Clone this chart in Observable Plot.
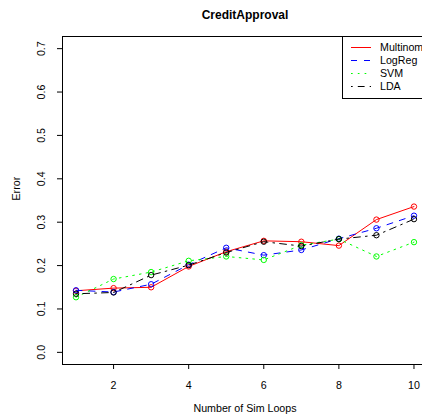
<!DOCTYPE html>
<html>
<head>
<meta charset="utf-8">
<script src="https://cdn.jsdelivr.net/npm/d3@7"></script>
<script src="https://cdn.jsdelivr.net/npm/@observablehq/plot@0.6"></script>
<style>
  body { margin: 0; background: #fff; font-family: "Liberation Sans", Arial, sans-serif; }
  #wrap { position: relative; width: 422px; height: 420px; overflow: hidden; }
  #chart svg { max-width: none !important; display: block; }
  #legend { position: absolute; left: 342px; top: 36px; }
</style>
</head>
<body>
<div id="wrap"><div id="chart"></div><div id="legend"></div></div>
<script>
const titleText = "CreditApproval";
const xLabel = "Number of Sim Loops";
const yLabel = "Error";
const loops = [1, 2, 3, 4, 5, 6, 7, 8, 9, 10];
const seriesNames = ["Multinom", "LogReg", "SVM", "LDA"];
const seriesColors = ["#FF0000", "#0000FF", "#00FF00", "#000000"];
const seriesDash = ["none", "6,7", "1.7,5.1", "1.7,5.1,6.8,5.1"];
const multinom = [0.142, 0.148, 0.150, 0.198, 0.232, 0.257, 0.255, 0.246, 0.306, 0.336];
const logreg   = [0.143, 0.139, 0.157, 0.202, 0.241, 0.224, 0.236, 0.262, 0.286, 0.315];
const svm      = [0.127, 0.169, 0.185, 0.211, 0.221, 0.213, 0.247, 0.261, 0.221, 0.254];
const lda      = [0.135, 0.138, 0.178, 0.201, 0.230, 0.255, 0.245, 0.261, 0.270, 0.307];
const xTicks = [2, 4, 6, 8, 10];
const yTicks = [0, 0.1, 0.2, 0.3, 0.4, 0.5, 0.6, 0.7];

const allSeries = [multinom, logreg, svm, lda];
const rows = [];
allSeries.forEach((vals, s) => vals.forEach((v, i) => rows.push({series: seriesNames[s], loop: loops[i], err: v})));

const marks = [Plot.frame({stroke: "#000", strokeWidth: 1})];
seriesNames.forEach((name, s) => {
  const data = rows.filter(d => d.series === name);
  marks.push(Plot.line(data, {x: "loop", y: "err", stroke: seriesColors[s], strokeWidth: 1,
    strokeDasharray: seriesDash[s] === "none" ? null : seriesDash[s]}));
  marks.push(Plot.dot(data, {x: "loop", y: "err", r: 2.7, stroke: seriesColors[s], strokeWidth: 1, fill: "none"}));
});
marks.push(Plot.text([titleText], {text: d => d, frameAnchor: "top", dy: -26, fontWeight: "bold", fontSize: 12}));
marks.push(Plot.text([xLabel], {text: d => d, frameAnchor: "bottom", dy: 47}));
marks.push(Plot.text([yLabel], {text: d => d, frameAnchor: "left", dx: -46, rotate: -90}));

const chart = Plot.plot({
  width: 427, height: 420,
  marginTop: 36, marginBottom: 56, marginLeft: 62, marginRight: 0,
  style: {fontFamily: "'Liberation Sans', Arial, sans-serif", fontSize: "10.67px", background: "white", color: "#000", overflow: "visible", maxWidth: "none"},
  x: {domain: [0.64, 10.36], ticks: xTicks, tickSize: 5, tickPadding: 12, label: null},
  y: {domain: [-0.028, 0.728], ticks: yTicks, tickFormat: d3.format(".1f"), tickSize: 5, tickPadding: 13, tickRotate: -90, label: null},
  marks
});
document.getElementById("chart").appendChild(chart);

// legend box (top-right, as in R's legend)
const lg = d3.select("#legend").append("svg").attr("width", 86).attr("height", 63)
  .style("font-family", "'Liberation Sans', Arial, sans-serif").style("font-size", "10.67px");
lg.append("rect").attr("x", 0.5).attr("y", 0.5).attr("width", 90).attr("height", 62)
  .attr("fill", "white").attr("stroke", "#000");
seriesNames.forEach((name, s) => {
  const y = 11.5 + s * 13;
  lg.append("line").attr("x1", 9).attr("x2", 29).attr("y1", y).attr("y2", y)
    .attr("stroke", seriesColors[s]).attr("stroke-width", 1)
    .attr("stroke-dasharray", seriesDash[s] === "none" ? null : seriesDash[s]);
  lg.append("text").attr("x", 38).attr("y", y).attr("dy", "0.35em").text(name);
});
</script>
</body>
</html>
